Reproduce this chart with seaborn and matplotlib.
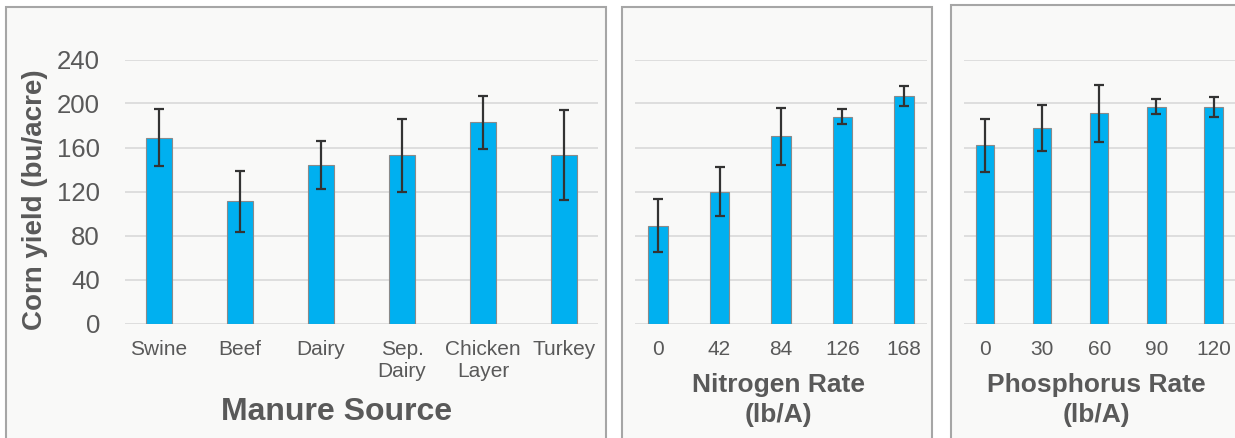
import matplotlib
matplotlib.use("Agg")
import matplotlib.pyplot as plt
from matplotlib.patches import Rectangle
import seaborn as sns
import pandas as pd

# Corn yield by manure source
manure_sources = ["Swine", "Beef", "Dairy", "Sep.\nDairy", "Chicken\nLayer", "Turkey"]
manure_yield = [169, 111, 144, 153, 183, 153]
manure_err = [26, 28, 22, 33, 24, 41]

# Corn yield by nitrogen rate (lb/A)
nitrogen_rates = ["0", "42", "84", "126", "168"]
nitrogen_yield = [89, 120, 170, 188, 207]
nitrogen_err = [24, 22, 26, 7, 9]

# Corn yield by phosphorus rate (lb/A)
phosphorus_rates = ["0", "30", "60", "90", "120"]
phosphorus_yield = [162, 178, 191, 197, 197]
phosphorus_err = [24, 21, 26, 7, 9]

y_ticks = [0, 40, 80, 120, 160, 200, 240]

sns.set_theme(style="white")
plt.rcParams["font.family"] = ["Liberation Sans", "DejaVu Sans"]

W, H = 1235, 438
fig = plt.figure(figsize=(W / 100, H / 100), dpi=100)
fig.patch.set_facecolor("white")

TEXT = "#595959"
BAR = "#00B0F0"
GRID = "#d9d9d9"
PANEL_BG = "#f9f9f8"
PANEL_EDGE = "#a6a6a6"


def px_rect(x0, y0, x1, y1):
    """Convert pixel box (top-left origin) to figure fraction [l, b, w, h]."""
    return [x0 / W, (H - y1) / H, (x1 - x0) / W, (y1 - y0) / H]


# Panel frames behind each chart
for (x0, y0, x1, y1) in [(6, 7, 606, 460), (622, 7, 932, 460), (951, 5, 1250, 460)]:
    l, b, w, h = px_rect(x0, y0, x1, y1)
    fig.patches.append(Rectangle((l, b), w, h, transform=fig.transFigure,
                                 facecolor=PANEL_BG, edgecolor=PANEL_EDGE,
                                 linewidth=1.5, zorder=-5))

PLOT_TOP, PLOT_BOT = 59.5, 323.5
ax_m = fig.add_axes(px_rect(125, PLOT_TOP, 598, PLOT_BOT))
ax_n = fig.add_axes(px_rect(635, PLOT_TOP, 927, PLOT_BOT))
ax_p = fig.add_axes(px_rect(963.5, PLOT_TOP, 1235, PLOT_BOT))

panels = [
    (ax_m, manure_sources, manure_yield, manure_err, 0.31),
    (ax_n, nitrogen_rates, nitrogen_yield, nitrogen_err, 0.32),
    (ax_p, phosphorus_rates, phosphorus_yield, phosphorus_err, 0.32),
]

for ax, cats, vals, errs, width in panels:
    ax.set_zorder(1)
    df = pd.DataFrame({"cat": cats, "val": vals})
    sns.barplot(data=df, x="cat", y="val", ax=ax, color=BAR, width=width,
                saturation=1, edgecolor="#8a8a8a", linewidth=0.8,
                errorbar=None, zorder=3)
    ax.errorbar(x=list(range(len(cats))), y=vals, yerr=errs, fmt="none",
                ecolor="#333333", elinewidth=1.6, capsize=3.5, capthick=1.6,
                zorder=4)
    ax.patch.set_visible(False)
    ax.set_ylim(0, 240)
    ax.set_yticks(y_ticks)
    ax.yaxis.grid(True, color=GRID, linewidth=1.2, zorder=0)
    ax.set_axisbelow(True)
    for s in ax.spines.values():
        s.set_visible(False)
    ax.tick_params(axis="both", length=0, colors=TEXT)
    ax.tick_params(axis="x", labelsize=15, pad=12)
    ax.set_xlabel("")
    ax.set_ylabel("")
    for lab in ax.get_xticklabels():
        lab.set_linespacing(1.22)

ax_m.tick_params(axis="y", labelsize=18.5, pad=18)
ax_n.set_yticklabels([])
ax_p.set_yticklabels([])

ax_m.text(-0.19, 0.47, "Corn yield (bu/acre)", transform=ax_m.transAxes,
          rotation=90, ha="center", va="center", fontsize=20,
          fontweight="bold", color=TEXT)

ax_m.text(0.448, -0.335, "Manure Source", transform=ax_m.transAxes,
          ha="center", va="center", fontsize=23, fontweight="bold", color=TEXT)
ax_n.text(0.49, -0.29, "Nitrogen Rate\n(lb/A)", transform=ax_n.transAxes,
          ha="center", va="center", fontsize=19, fontweight="bold",
          color=TEXT, linespacing=1.3)
ax_p.text(0.49, -0.29, "Phosphorus Rate\n(lb/A)", transform=ax_p.transAxes,
          ha="center", va="center", fontsize=19, fontweight="bold",
          color=TEXT, linespacing=1.3)

fig.savefig("out.png", dpi=100)
